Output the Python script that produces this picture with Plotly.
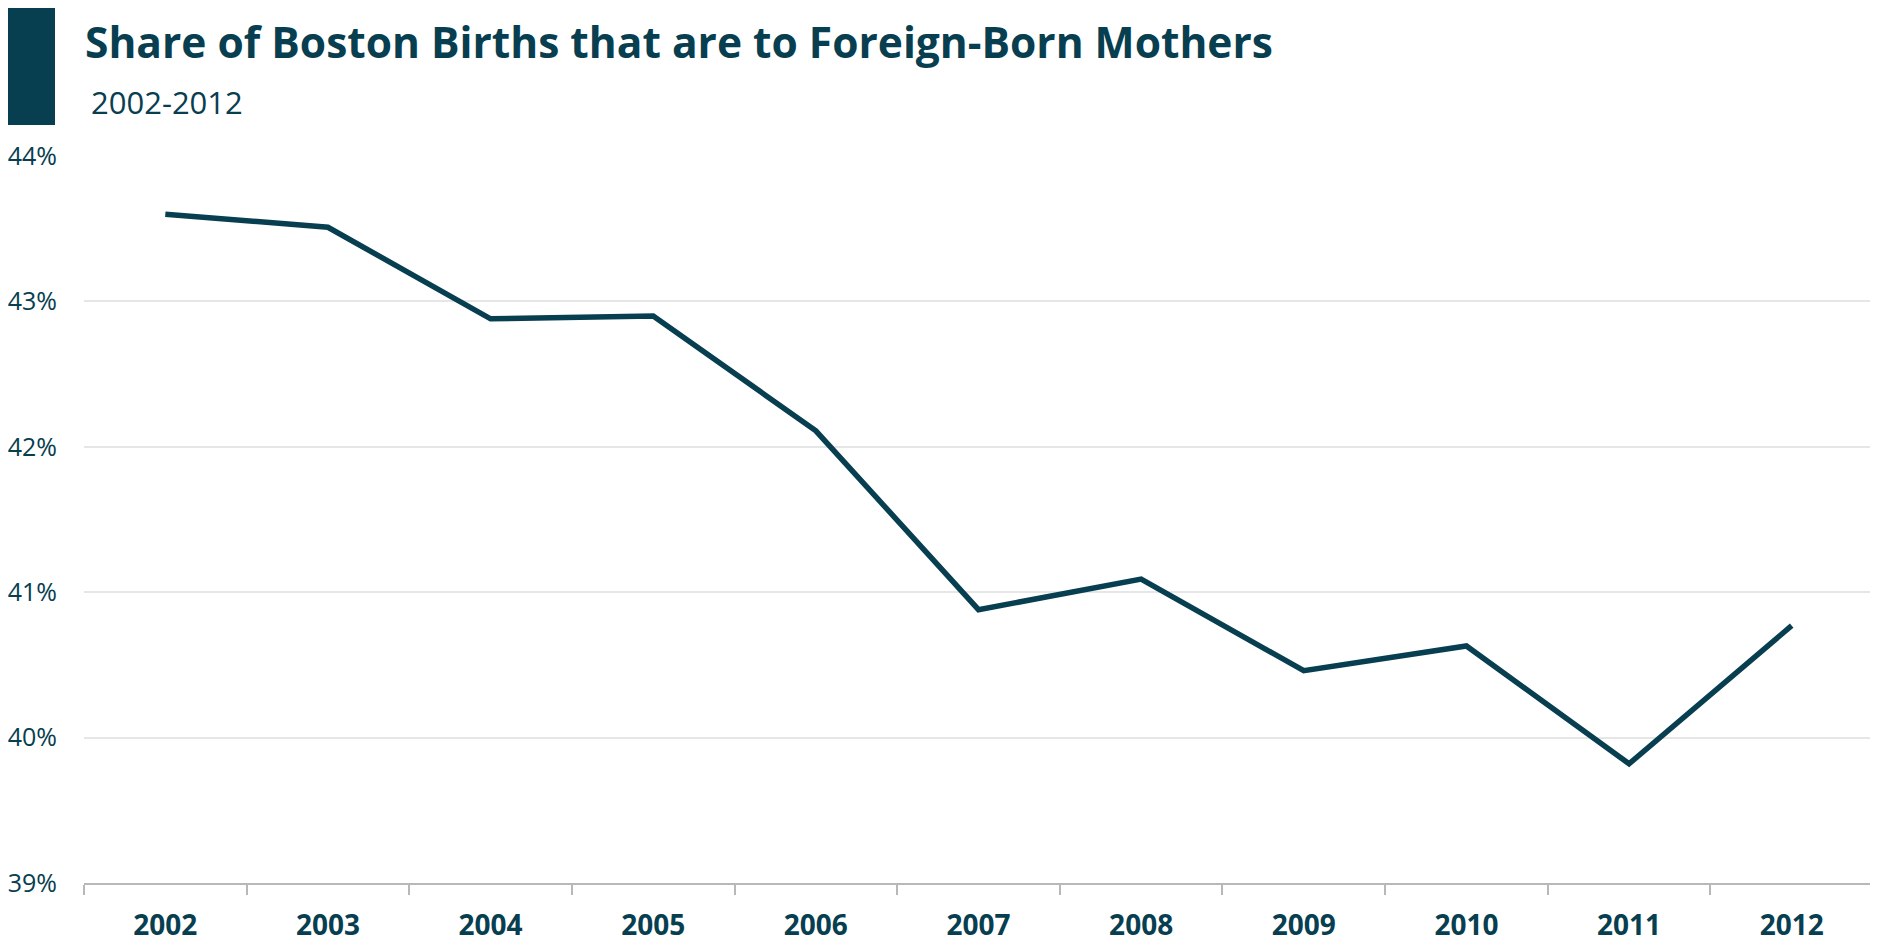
import plotly.graph_objects as go

years = ["2002", "2003", "2004", "2005", "2006", "2007", "2008", "2009", "2010", "2011", "2012"]
share = [43.60, 43.51, 42.88, 42.90, 42.11, 40.88, 41.09, 40.46, 40.63, 39.82, 40.77]
y_ticks = [39, 40, 41, 42, 43, 44]
y_tick_labels = ["39%", "40%", "41%", "42%", "43%", "44%"]

title = "Share of Boston Births that are to Foreign-Born Mothers"
subtitle = "2002-2012"

# the page has an 8px body margin; the figure overflows the window slightly
OFF = 8
W, H = 1878, 940
L, T = 84 - OFF, 156 - OFF
R = W - (1873 - OFF)
B = H - (883 - OFF)
DARK = "#073e50"
FONT = "Open Sans"

pw = W - L - R
ph = H - T - B
def px(x):
    return (x - OFF - L) / pw
def py(y):
    return (H - B - (y - OFF)) / ph

fig = go.Figure()
fig.add_trace(go.Scatter(
    x=years, y=share, mode="lines",
    line=dict(color=DARK, width=5.5),
    hoverinfo="x+y",
))

fig.update_layout(
    width=W, height=H,
    margin=dict(l=L, r=R, t=T, b=B),
    paper_bgcolor="white", plot_bgcolor="white",
    showlegend=False,
    font=dict(family=FONT, color=DARK),
    xaxis=dict(
        type="category",
        range=[-0.5, len(years) - 0.5],
        tickson="boundaries",
        ticks="outside", ticklen=10, tickwidth=2, tickcolor="#b8b8b8",
        showline=True, linecolor="#b8b8b8", linewidth=2,
        showgrid=False, zeroline=False,
        tickfont=dict(family=FONT, size=28, color=DARK, weight="bold"),
        ticklabelstandoff=16,
        automargin=False,
    ),
    yaxis=dict(
        range=[39, 44],
        tickmode="array", tickvals=y_ticks, ticktext=y_tick_labels,
        showgrid=True, gridcolor="#e6e6e6", gridwidth=2,
        zeroline=False, showline=False, ticks="",
        tickfont=dict(family=FONT, size=25, color=DARK),
        ticklabelstandoff=26,
        automargin=False,
    ),
    shapes=[dict(
        type="rect", xref="paper", yref="paper",
        x0=px(8), x1=px(55), y0=py(125), y1=py(8),
        fillcolor=DARK, line=dict(width=0), layer="above",
    )],
    annotations=[
        dict(text=title, xref="paper", yref="paper", x=px(83), y=py(42),
             xanchor="left", yanchor="middle", showarrow=False,
             font=dict(family=FONT, size=42.5, color=DARK, weight="bold")),
        dict(text=subtitle, xref="paper", yref="paper", x=px(89), y=py(102),
             xanchor="left", yanchor="middle", showarrow=False,
             font=dict(family=FONT, size=31, color=DARK)),
    ],
)

fig.write_html("out.html")
